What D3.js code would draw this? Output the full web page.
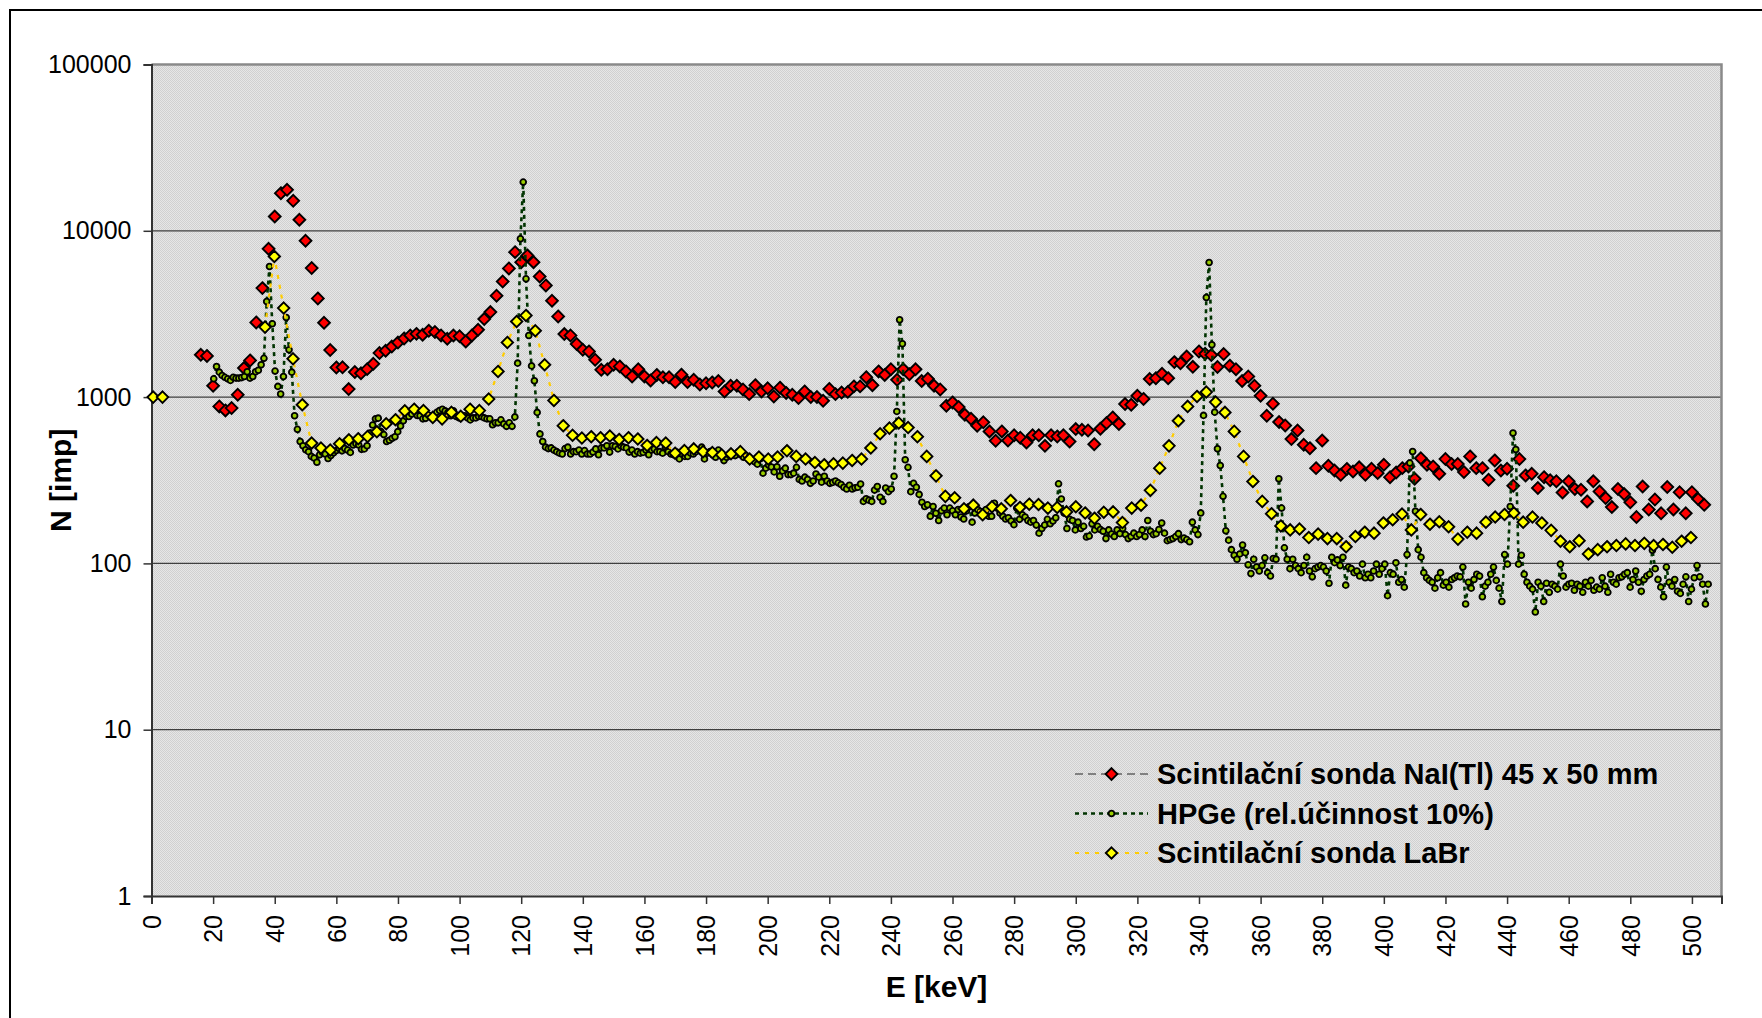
<!DOCTYPE html>
<html>
<head>
<meta charset="utf-8">
<script src="https://cdnjs.cloudflare.com/ajax/libs/d3/7.8.5/d3.min.js"></script>
<style>
  html, body { margin: 0; padding: 0; background: #ffffff; }
  svg { display: block; font-family: "Liberation Sans", Arial, sans-serif; }
</style>
</head>
<body>
<svg id="chart" width="1762" height="1018"></svg>
<script>
// ---- axis ticks -------------------------------------------------------
const energyTicks = [0, 20, 40, 60, 80, 100, 120, 140, 160, 180, 200, 220, 240,
  260, 280, 300, 320, 340, 360, 380, 400, 420, 440, 460, 480, 500];
const countTicks = [1, 10, 100, 1000, 10000, 100000];

// ---- spectra (counts per channel) ------------------------------------
// Scintilační sonda NaI(Tl) 45 x 50 mm: 2 keV channels from 16 keV
const naiStart = 16, naiStep = 2;
const naiCounts = [
  1797, 1768, 1170, 879, 832, 859, 1033, 1494, 1662, 2812,
  4522, 7793, 12190, 16840, 17640, 15140, 11650, 8710, 5970, 3920,
  2800, 1918, 1508, 1510, 1117, 1414, 1390, 1473, 1585, 1840,
  1900, 2016, 2131, 2253, 2348, 2400, 2370, 2505, 2460, 2348,
  2243, 2348, 2320, 2161, 2348, 2541, 2944, 3244, 4066, 4959,
  5938, 7443, 6480, 7110, 6480, 5310, 4694, 3795, 3055, 2392,
  2348, 2083, 1926, 1882, 1676, 1459, 1470, 1565, 1530, 1427,
  1331, 1470, 1331, 1259, 1360, 1315, 1315, 1231, 1365, 1231,
  1270, 1190, 1210, 1225, 1250, 1082, 1170, 1170, 1110, 1042,
  1180, 1082, 1130, 1009, 1140, 1060, 1033, 986, 1082, 1000,
  1000, 951, 1120, 1042, 1065, 1075, 1160, 1160, 1318, 1180,
  1427, 1360, 1470, 1270, 1470, 1374, 1470, 1250, 1288, 1170,
  1110, 887, 929, 871, 783, 741, 673, 705, 622, 546,
  622, 548, 589, 570, 534, 589, 589, 509, 589, 580,
  589, 540, 642, 636, 630, 521, 645, 698, 755, 690,
  908, 900, 1019, 975, 1283, 1300, 1380, 1300, 1623, 1600,
  1755, 1520, 1882, 1820, 1790, 1518, 1815, 1545, 1470, 1250,
  1331, 1170, 1019, 772, 912, 708, 675, 559, 630, 517,
  493, 374, 548, 386, 362, 341, 370, 357, 378, 341,
  371, 349, 392, 330, 352, 374, 382, 323, 429, 392,
  382, 346, 424, 396, 396, 354, 440, 374, 374, 318,
  416, 362, 371, 293, 424, 338, 346, 284, 330, 316,
  312, 267, 312, 280, 277, 236, 312, 271, 247, 218,
  280, 261, 233, 190, 290, 211, 242, 200, 288, 211,
  268, 200, 268, 244, 225
];

// HPGe (rel. účinnost 10 %): 0.905 keV channels from 20.2 keV
const hpgeStart = 20.2, hpgeStep = 0.905;
const hpgeCounts = [
  1288, 1528, 1413, 1350, 1315, 1288, 1260, 1315, 1300, 1300,
  1310, 1330, 1420, 1300, 1331, 1420, 1450, 1565, 1710, 3760,
  6100, 2760, 1433, 1160, 1044, 1331, 3010, 1926, 1413, 772,
  640, 541, 510, 482, 470, 440, 430, 406, 450, 465,
  455, 427, 445, 462, 477, 491, 475, 491, 480, 465,
  515, 525, 515, 485, 488, 510, 608, 679, 740, 747,
  620, 595, 541, 550, 565, 578, 620, 670, 720, 765,
  765, 790, 830, 775, 772, 740, 745, 780, 772, 765,
  810, 830, 846, 826, 810, 772, 826, 765, 750, 765,
  772, 750, 729, 750, 750, 765, 765, 750, 740, 740,
  682, 700, 700, 730, 690, 667, 700, 667, 760, 1600,
  8950, 19630, 5140, 2348, 1540, 1254, 809, 600, 541, 500,
  490, 495, 480, 470, 460, 455, 490, 500, 455, 470,
  470, 480, 455, 477, 455, 455, 467, 488, 450, 495,
  495, 510, 467, 510, 505, 488, 510, 500, 495, 467,
  480, 455, 470, 460, 465, 480, 450, 480, 488, 470,
  470, 460, 500, 470, 455, 450, 467, 425, 455, 440,
  440, 460, 455, 470, 480, 500, 425, 460, 470, 450,
  435, 480, 455, 415, 435, 445, 455, 445, 467, 450,
  435, 445, 435, 420, 408, 395, 425, 349, 374, 390,
  380, 355, 381, 334, 360, 374, 342, 342, 349, 378,
  320, 313, 330, 320, 303, 313, 345, 330, 308, 334,
  313, 303, 307, 313, 305, 298, 287, 280, 295, 280,
  285, 287, 300, 236, 245, 240, 236, 276, 290, 250,
  236, 284, 270, 280, 334, 820, 2917, 2094, 420, 378,
  270, 303, 287, 260, 233, 220, 225, 192, 220, 200,
  181, 207, 215, 196, 215, 207, 196, 211, 190, 185,
  207, 220, 177, 201, 211, 205, 196, 211, 192, 192,
  230, 215, 201, 192, 185, 188, 180, 171, 215, 184,
  196, 190, 181, 177, 181, 170, 152, 162, 170, 184,
  173, 180, 188, 301, 244, 201, 162, 184, 181, 159,
  177, 162, 167, 144, 146, 173, 159, 167, 160, 156,
  141, 159, 150, 145, 159, 151, 162, 149, 141, 145,
  152, 145, 149, 159, 145, 181, 156, 149, 151, 160,
  175, 152, 137, 139, 141, 145, 151, 139, 142, 139,
  135, 177, 159, 149, 201, 776, 3970, 6450, 2065, 812,
  489, 388, 253, 157, 138, 121, 112, 106, 114, 129,
  116, 98, 87, 106, 95, 90, 97, 108, 88, 84,
  107, 106, 323, 215, 124, 106, 93, 106, 97, 93,
  88, 97, 109, 90, 83, 93, 95, 97, 95, 90,
  76, 109, 101, 105, 97, 109, 74, 95, 93, 88,
  90, 84, 99, 82, 86, 82, 90, 99, 86, 93,
  99, 64, 88, 86, 101, 77, 80, 72, 113, 401,
  471, 206, 121, 109, 88, 82, 79, 77, 71, 82,
  88, 74, 77, 72, 80, 82, 84, 83, 95, 57,
  77, 71, 80, 86, 84, 63, 73, 77, 86, 95,
  79, 71, 59, 113, 99, 220, 608, 484, 99, 112,
  86, 77, 73, 70, 51, 77, 73, 59, 76, 67,
  75, 73, 70, 99, 84, 72, 75, 76, 69, 75,
  73, 67, 77, 73, 79, 69, 72, 70, 82, 73,
  67, 86, 77, 75, 82, 83, 86, 88, 72, 80,
  90, 77, 68, 80, 84, 86, 120, 93, 80, 72,
  63, 95, 77, 73, 80, 68, 66, 75, 83, 59,
  70, 82, 97, 83, 75, 57, 75
];

// Scintilační sonda LaBr: 3.025 keV channels from 0.55 keV (null = not measured)
const labrStart = 0.55, labrStep = 3.025;
const labrCounts = [
  1000, 1000,
  null, null, null, null, null, null, null, null, null, null,
  2636, 7010, 3430, 1700, 900, 529, 494, 480, 524, 554,
  562, 580, 619, 691, 731, 827, 846, 830, 755, 740,
  810, 767, 846, 830, 973, 1427, 2131, 2850, 3098, 2505,
  1565, 955, 673, 589, 567, 578, 570, 583, 556, 570,
  560, 512, 533, 529, 460, 477, 488, 470, 464, 450,
  456, 470, 424, 436, 424, 436, 476, 440, 424, 404,
  392, 397, 401, 416, 424, 494, 602, 651, 698, 656,
  578, 440, 336, 253, 248, 213, 224, 196, 219, 213,
  239, 217, 227, 226, 215, 217, 204, 219, 201, 187,
  203, 204, 176, 215, 224, 275, 374, 509, 721, 879,
  1009, 1072, 933, 809, 622, 440, 311, 236, 199, 168,
  159, 161, 143, 150, 141, 141, 126, 145, 154, 152,
  175, 183, 198, 159, 197, 172, 178, 166, 140, 154,
  152, 177, 190, 197, 201, 177, 190, 175, 158, 136,
  126, 137, 114, 121, 126, 128, 131, 128, 132, 128,
  130, 125, 136, 143
];

const seriesNames = [
  "Scintilační sonda NaI(Tl) 45 x 50 mm",
  "HPGe (rel.účinnost 10%)",
  "Scintilační sonda LaBr"
];

// ---- layout ----------------------------------------------------------
const plot = { left: 151.5, right: 1721.5, top: 64.5, bottom: 896 };

const svg = d3.select("#chart");

const x = d3.scaleLinear().domain([0, 509.6]).range([plot.left, plot.right]);
const y = d3.scaleLog().domain([1, 100000]).range([plot.bottom, plot.top]);

const toPoints = (start, step, counts) =>
  counts.map((v, i) => ({ e: start + i * step, v }));

// showLine: whether the connecting line is drawn inside the plot
const series = [
  {
    name: seriesNames[0], points: toPoints(naiStart, naiStep, naiCounts),
    line: "#808080", lineWidth: 2, dash: "8,5", showLine: false,
    marker: "diamond", r: 5.9, stroke: 1.9, fill: "#ff0000"
  },
  {
    name: seriesNames[1], points: toPoints(hpgeStart, hpgeStep, hpgeCounts),
    line: "#003300", lineWidth: 2.6, dash: "4,4", showLine: true,
    marker: "circle", r: 2.9, stroke: 1.8, fill: "#99cc00"
  },
  {
    name: seriesNames[2], points: toPoints(labrStart, labrStep, labrCounts),
    line: "#ffcc00", lineWidth: 2.2, dash: "4,6", showLine: true,
    marker: "diamond", r: 5.7, stroke: 1.9, fill: "#ffff00"
  }
];

// ---- plot background with a fine dither pattern ----------------------
const defs = svg.append("defs");
const pat = defs.append("pattern")
  .attr("id", "dither").attr("patternUnits", "userSpaceOnUse")
  .attr("width", 2).attr("height", 2);
pat.append("rect").attr("width", 2).attr("height", 2).attr("fill", "#e6e6e6");
pat.append("rect").attr("width", 1).attr("height", 1).attr("fill", "#d0d0d0");
pat.append("rect").attr("x", 1).attr("y", 1).attr("width", 1).attr("height", 1).attr("fill", "#d0d0d0");

svg.append("rect")
  .attr("x", plot.left).attr("y", plot.top)
  .attr("width", plot.right - plot.left).attr("height", plot.bottom - plot.top)
  .attr("fill", "url(#dither)");

// horizontal gridlines at each decade inside the plot
svg.append("g").selectAll("line")
  .data(countTicks.filter(d => d > 1 && d < 100000))
  .join("line")
  .attr("x1", plot.left).attr("x2", plot.right)
  .attr("y1", d => y(d)).attr("y2", d => y(d))
  .attr("stroke", "#3f3f3f").attr("stroke-width", 1.3);

// top and right frame of the plot area
svg.append("path")
  .attr("d", `M${plot.left},${plot.top}H${plot.right}V${plot.bottom}`)
  .attr("fill", "none").attr("stroke", "#8a8a8a").attr("stroke-width", 2.5);

// ---- axes ------------------------------------------------------------
const yAxis = svg.append("g")
  .attr("transform", `translate(${plot.left},0)`)
  .call(d3.axisLeft(y).tickValues(countTicks).tickFormat(d3.format("d"))
    .tickSize(8).tickPadding(12));
yAxis.select(".domain").attr("stroke", "#333").attr("stroke-width", 2);
yAxis.selectAll(".tick line").attr("stroke", "#333").attr("stroke-width", 1.5);
yAxis.selectAll(".tick text")
  .attr("font-size", 25).attr("fill", "#000")
  .attr("font-family", "'Liberation Sans', Arial, sans-serif");

const xAxis = svg.append("g")
  .attr("transform", `translate(0,${plot.bottom})`)
  .call(d3.axisBottom(x).tickValues(energyTicks).tickFormat(d3.format("d")).tickSize(8));
xAxis.select(".domain").attr("stroke", "#333").attr("stroke-width", 2);
xAxis.selectAll(".tick line").attr("stroke", "#333").attr("stroke-width", 1.5);
xAxis.selectAll(".tick text")
  .attr("font-size", 25).attr("fill", "#000")
  .attr("font-family", "'Liberation Sans', Arial, sans-serif")
  .attr("transform", "rotate(-90)")
  .attr("text-anchor", "end")
  .attr("x", -19).attr("y", 0).attr("dy", "0.35em");

// axis titles
svg.append("text")
  .attr("x", (plot.left + plot.right) / 2).attr("y", 997)
  .attr("text-anchor", "middle")
  .attr("font-size", 30).attr("font-weight", "bold")
  .text("E [keV]");

svg.append("text")
  .attr("transform", `translate(71,${(plot.top + plot.bottom) / 2}) rotate(-90)`)
  .attr("text-anchor", "middle")
  .attr("font-size", 30).attr("font-weight", "bold")
  .text("N [imp]");

// ---- series: dashed connecting line, then markers --------------------
const diamondPath = r => `M0,${-r}L${r},0L0,${r}L${-r},0Z`;

function drawMarker(sel, s) {
  if (s.marker === "diamond") {
    sel.append("path").attr("d", diamondPath(s.r))
      .attr("fill", s.fill).attr("stroke", "#000").attr("stroke-width", s.stroke);
  } else {
    sel.append("circle").attr("r", s.r)
      .attr("fill", s.fill).attr("stroke", "#000").attr("stroke-width", s.stroke);
  }
}

const lineGen = d3.line()
  .defined(d => d.v != null)
  .x(d => x(d.e)).y(d => y(d.v));

series.forEach(s => {
  const g = svg.append("g");
  if (s.showLine) {
    g.append("path")
      .datum(s.points)
      .attr("d", lineGen)
      .attr("fill", "none")
      .attr("stroke", s.line).attr("stroke-width", s.lineWidth)
      .attr("stroke-dasharray", s.dash);
  }
  g.selectAll("g.pt")
    .data(s.points.filter(d => d.v != null))
    .join("g").attr("class", "pt")
    .attr("transform", d => `translate(${x(d.e)},${y(d.v)})`)
    .each(function () { drawMarker(d3.select(this), s); });
});

// ---- legend ----------------------------------------------------------
const legend = svg.append("g");
const legendRows = [774, 813.5, 853];
series.forEach((s, i) => {
  const row = legend.append("g").attr("transform", `translate(0,${legendRows[i]})`);
  row.append("line")
    .attr("x1", 1075).attr("x2", 1148).attr("y1", 0).attr("y2", 0)
    .attr("stroke", s.line).attr("stroke-width", s.lineWidth)
    .attr("stroke-dasharray", s.dash);
  drawMarker(row.append("g").attr("transform", "translate(1111.5,0)"), s);
  row.append("text")
    .attr("x", 1157).attr("y", 0).attr("dy", "0.35em")
    .attr("font-size", 29).attr("font-weight", "bold")
    .text(s.name);
});

// ---- outer chart frame -----------------------------------------------
svg.append("rect")
  .attr("x", 10).attr("y", 10).attr("width", 1800).attr("height", 1100)
  .attr("fill", "none").attr("stroke", "#000").attr("stroke-width", 2);
</script>
</body>
</html>
